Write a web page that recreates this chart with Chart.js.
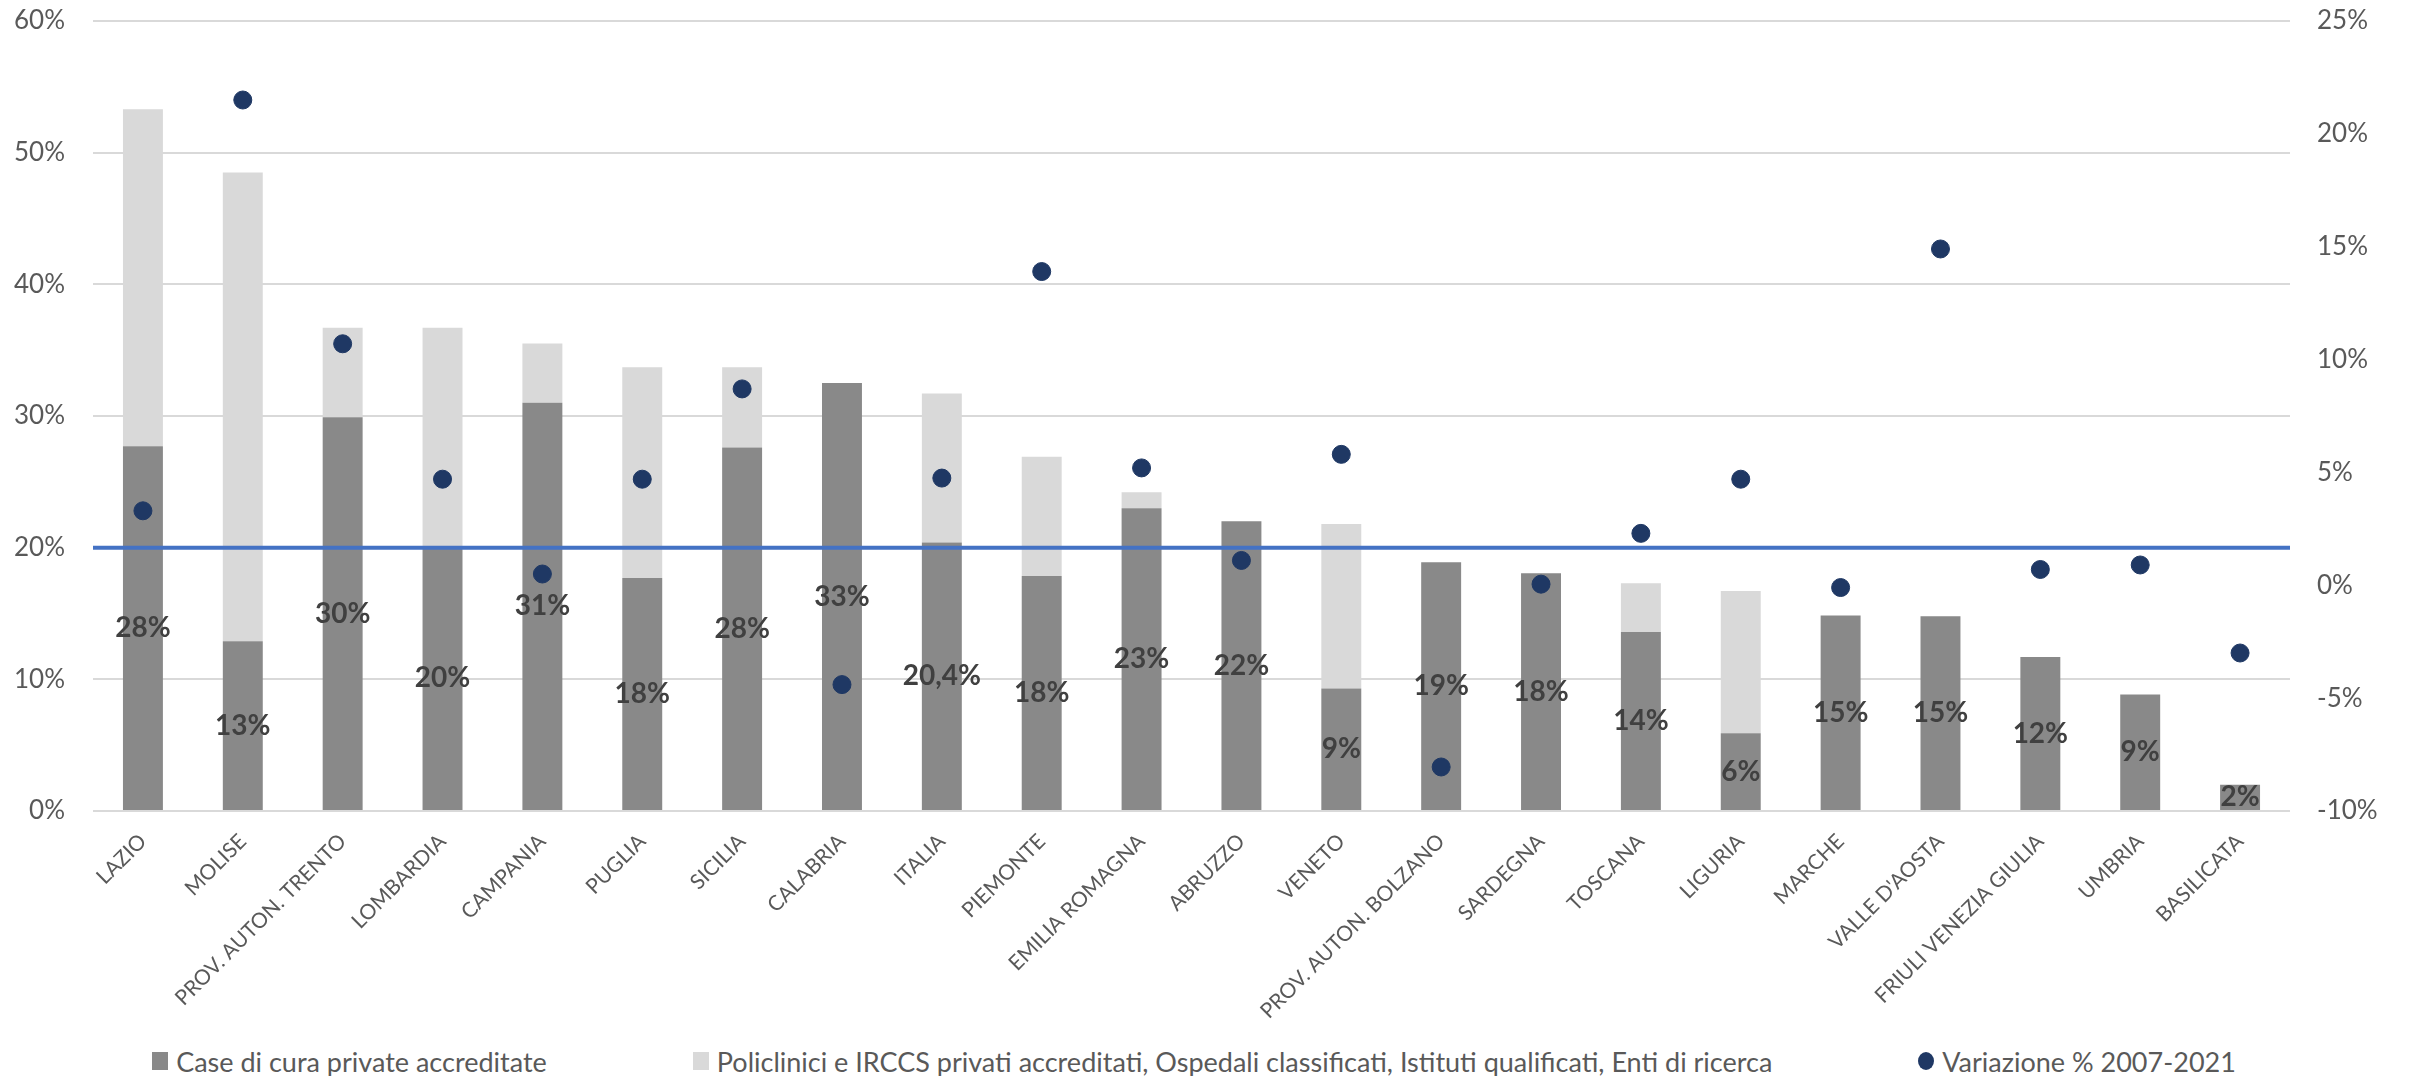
<!DOCTYPE html>
<html lang="it">
<head>
<meta charset="utf-8">
<title>Posti letto privati accreditati per regione</title>
<script src="https://cdn.jsdelivr.net/npm/chart.js@4/dist/chart.umd.min.js"></script>
<style>
    html, body { margin: 0; padding: 0; background: #fff; overflow: hidden; font-family: Lato, "Open Sans", sans-serif; }
    #wrap { position: relative; width: 2410px; height: 1040px; }
    #legenda {
        display: flex;
        justify-content: center;
        align-items: center;
        gap: 146px;
        width: 2388px;
        padding-right: 22px;
        height: 30px;
        margin-top: 6px;
        color: #595959;
        font-size: 27px;
    }
    .voce { display: flex; align-items: center; gap: 8px; white-space: nowrap; }
    .simbolo { display: inline-block; width: 16px; height: 18px; }
    .simbolo.tondo { width: 16px; height: 18px; border-radius: 50%; }
</style>
</head>
<body>
<div id="wrap"><canvas id="grafico"></canvas></div>
<div id="legenda"></div>

<script>
const categorie = ['LAZIO', 'MOLISE', 'PROV. AUTON. TRENTO', 'LOMBARDIA', 'CAMPANIA', 'PUGLIA', 'SICILIA',
    'CALABRIA', 'ITALIA', 'PIEMONTE', 'EMILIA ROMAGNA', 'ABRUZZO', 'VENETO', 'PROV. AUTON. BOLZANO',
    'SARDEGNA', 'TOSCANA', 'LIGURIA', 'MARCHE', "VALLE D'AOSTA", 'FRIULI VENEZIA GIULIA', 'UMBRIA', 'BASILICATA'];

// quota % sul totale posti letto (asse sinistro)
const caseDiCura = [27.7, 12.9, 29.9, 20.1, 31.0, 17.7, 27.6, 32.5, 20.4, 17.85, 23.0,
    22.0, 9.3, 18.9, 18.05, 13.6, 5.9, 14.85, 14.8, 11.7, 8.85, 2.0];
const policlinici = [25.6, 35.6, 6.8, 16.6, 4.5, 16.0, 6.1, 0, 11.3, 9.05, 1.2,
    0, 12.5, 0, 0, 3.7, 10.8, 0, 0, 0, 0, 0];

// variazione % 2007-2021 (asse destro)
const variazione = [3.3, 21.5, 10.7, 4.7, 0.5, 4.7, 8.7, -4.4, 4.75, 13.9, 5.2,
    1.1, 5.8, -8.05, 0.05, 2.3, 4.7, -0.1, 14.9, 0.7, 0.9, -3.0];

// etichette sulle barre scure
const etichette = ['28%', '13%', '30%', '20%', '31%', '18%', '28%', '33%', '20,4%', '18%', '23%',
    '22%', '9%', '19%', '18%', '14%', '6%', '15%', '15%', '12%', '9%', '2%'];

// linea di riferimento al 20%
const soglia = 20;

const GRIGIO_TESTO = '#595959';
const FONT = 'Lato, "Open Sans", sans-serif';

const etichettePlugin = {
    id: 'etichette',
    afterDatasetsDraw(chart) {
        const ctx = chart.ctx;
        const meta = chart.getDatasetMeta(0);
        ctx.save();
        ctx.font = `bold 28px ${FONT}`;
        ctx.fillStyle = '#404040';
        ctx.textAlign = 'center';
        ctx.textBaseline = 'middle';
        meta.data.forEach((bar, i) => {
            const { x, y, base } = bar.getProps(['x', 'y', 'base'], true);
            ctx.fillText(etichette[i], x, (y + base) / 2);
        });
        ctx.restore();
    }
};

const ctx = document.getElementById('grafico').getContext('2d');

const chart = new Chart(ctx, {
    type: 'bar',
    data: {
        labels: categorie,
        datasets: [
            {
                label: 'Case di cura private accreditate',
                data: caseDiCura,
                backgroundColor: '#898989',
                grouped: false,
                categoryPercentage: 1,
                barPercentage: 0.4,
                order: 3
            },
            {
                label: 'Policlinici e IRCCS privati accreditati, Ospedali classificati, Istituti qualificati, Enti di ricerca',
                data: policlinici,
                backgroundColor: '#d9d9d9',
                grouped: false,
                categoryPercentage: 1,
                barPercentage: 0.4,
                order: 3
            },
            {
                type: 'line',
                label: 'Soglia 20%',
                data: [{ x: 0, y: soglia }, { x: 1, y: soglia }],
                xAxisID: 'x2',
                yAxisID: 'y',
                borderColor: '#4472c4',
                borderWidth: 4,
                pointRadius: 0,
                inLegenda: false,
                order: 2
            },
            {
                type: 'line',
                label: 'Variazione % 2007-2021',
                data: variazione,
                yAxisID: 'y1',
                showLine: false,
                pointRadius: 9,
                pointHoverRadius: 9,
                pointBackgroundColor: '#1f3864',
                pointBorderColor: '#1f3864',
                backgroundColor: '#1f3864',
                order: 1
            }
        ]
    },
    options: {
        responsive: true,
        maintainAspectRatio: false,
        animation: false,
        layout: { padding: { left: 10, right: 10, top: 21, bottom: 0 } },
        plugins: {
            legend: { display: false },
            tooltip: { enabled: false }
        },
        scales: {
            x: {
                stacked: true,
                grid: { display: false },
                border: { display: false },
                ticks: {
                    color: GRIGIO_TESTO,
                    font: { family: FONT, size: 21 },
                    maxRotation: 45,
                    minRotation: 45,
                    autoSkip: false,
                    padding: 10
                },
                afterFit: (axis) => { axis.height = 1040 - 811; }
            },
            x2: {
                type: 'linear',
                display: false,
                offset: false,
                grid: { offset: false },
                min: 0,
                max: 1
            },
            y: {
                stacked: true,
                min: 0,
                max: 60,
                grid: { color: '#d9d9d9', lineWidth: 2, drawTicks: true, tickLength: 28, tickColor: 'rgba(0,0,0,0)' },
                border: { display: false },
                ticks: {
                    stepSize: 10,
                    color: GRIGIO_TESTO,
                    font: { family: FONT, size: 26 },
                    padding: 0,
                    callback: (v) => v + '%'
                },
                afterFit: (axis) => { axis.width = 83; }
            },
            y1: {
                position: 'right',
                min: -10,
                max: 25,
                grid: { drawOnChartArea: false, drawTicks: true, tickLength: 27, tickColor: 'rgba(0,0,0,0)' },
                border: { display: false },
                ticks: {
                    stepSize: 5,
                    color: GRIGIO_TESTO,
                    font: { family: FONT, size: 26 },
                    padding: 0,
                    callback: (v) => v + '%'
                },
                afterFit: (axis) => { axis.width = 110; }
            }
        }
    },
    plugins: [etichettePlugin]
});

// legenda HTML sotto il grafico
function disegnaLegenda(chart) {
    const box = document.getElementById('legenda');
    box.innerHTML = '';
    chart.data.datasets.forEach((ds) => {
        if (ds.inLegenda === false) return;
        const voce = document.createElement('div');
        voce.className = 'voce';
        const tondo = ds.type === 'line' ? ' tondo' : '';
        voce.innerHTML = `<span class="simbolo${tondo}" style="background:${ds.backgroundColor}"></span><span>${ds.label}</span>`;
        box.appendChild(voce);
    });
}

disegnaLegenda(chart);
</script>
</body>
</html>
